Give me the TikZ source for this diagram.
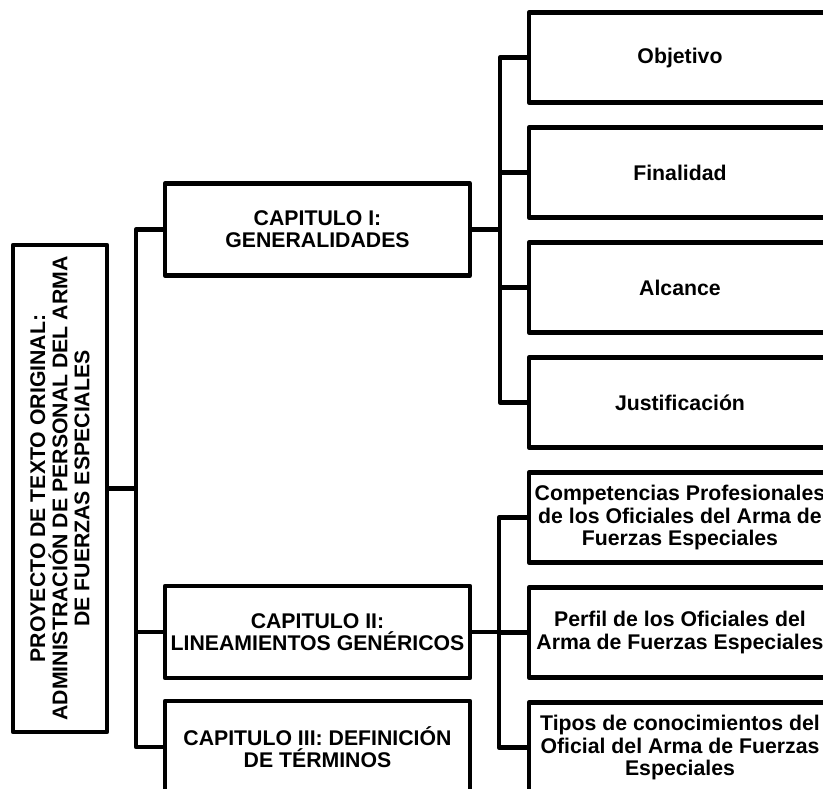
\documentclass[tikz,border=0pt]{standalone}
\usepackage{fontspec}
\setmainfont{Liberation Sans}
\begin{document}
\begin{tikzpicture}[x=0.02cm,y=-0.02cm,
	every node/.style={draw,line width=2.5pt,line join=round,inner sep=0pt,align=center,
		font=\bfseries\fontsize{12.1}{12.6}\selectfont},
	chapter/.style={minimum width=6.1cm,minimum height=1.84cm},
	leaf/.style={minimum width=6.04cm,minimum height=1.8cm},
	link/.style={line width=2.5pt,line join=round}]
	\useasboundingbox (0,0) rectangle (823,789);
	
	\node[rotate=90,minimum width=9.74cm,minimum height=1.88cm] (0) at (60,488.5)
		{PROYECTO DE TEXTO ORIGINAL:\\ADMINISTRACIÓN DE PERSONAL DEL ARMA\\DE FUERZAS ESPECIALES};
	
	\node[chapter] (1) at (317.5,229.5) {CAPITULO I:\\GENERALIDADES};
	\node[chapter] (2) at (317.5,632) {CAPITULO II:\\LINEAMIENTOS GENÉRICOS};
	\node[chapter] (3) at (317.5,747) {CAPITULO III: DEFINICIÓN\\DE TÉRMINOS};
	
	\node[leaf] (11) at (680,57.5) {Objetivo};
	\node[leaf] (12) at (680,172.5) {Finalidad};
	\node[leaf] (13) at (680,287.5) {Alcance};
	\node[leaf] (14) at (680,402.5) {Justificación};
	\node[leaf] (21) at (680,517.5) {Competencias Profesionales\\de los Oficiales del Arma de\\Fuerzas Especiales};
	\node[leaf] (22) at (680,632.5) {Perfil de los Oficiales del\\Arma de Fuerzas Especiales};
	\node[leaf] (23) at (680,747.5) {Tipos de conocimientos del\\Oficial del Arma de Fuerzas\\Especiales};
	
	\coordinate (t) at (136,488.5);
	\coordinate (s1) at (500,229.5);
	\coordinate (s2) at (499,632);
	
	\draw[link] (0) -- (t);
	\draw[link] (1.west) -| (t) |- (3.west);
	\draw[link] (t |- 2.west) -- (2.west);
	
	\draw[link] (1) -- (s1);
	\draw[link] (11.west) -| (s1) |- (14.west);
	\draw[link] (s1 |- 12.west) -- (12.west);
	\draw[link] (s1 |- 13.west) -- (13.west);
	
	\draw[link] (2) -- (s2);
	\draw[link] (21.west) -| (s2) |- (23.west);
	\draw[link] (s2 |- 22.west) -- (22.west);
\end{tikzpicture}
\end{document}
